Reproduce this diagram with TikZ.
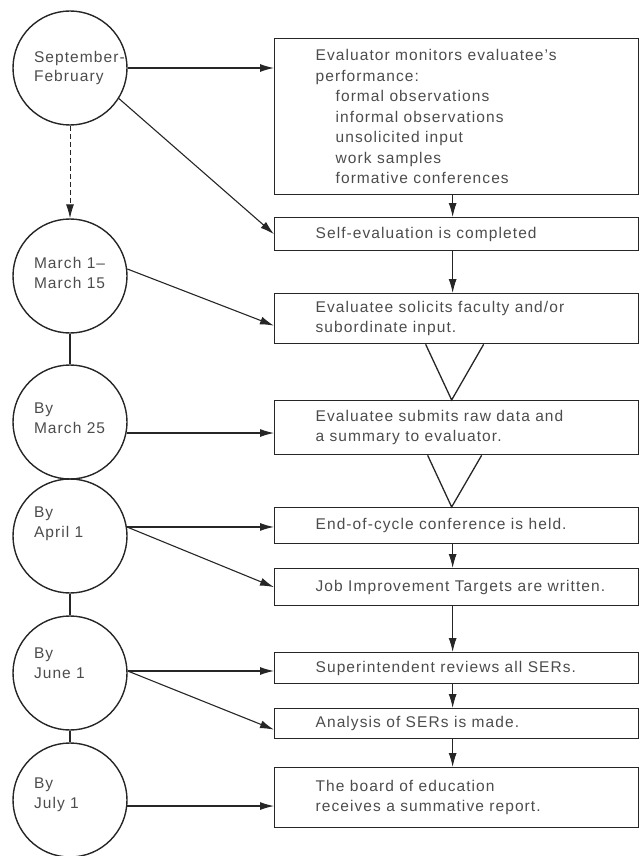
\documentclass[tikz,border=0pt]{standalone}
\usepackage{fontspec}
\setmainfont[LetterSpace=7]{Liberation Sans}
\usetikzlibrary{arrows.meta,calc}
\newcommand{\bxtext}[1]{\hspace*{41pt}\parbox{323pt}{\raggedright #1}}
\newcommand{\cltext}[2]{\parbox{72pt}{\raggedright #2\par\vspace*{#1}}}
\tikzset{
  box/.style={draw=black!85, line width=1.3pt, rectangle, inner xsep=0pt, inner ysep=0pt,
    minimum width=364pt, anchor=north west, text=black!70,
    font=\fontsize{15.5}{20.5}\selectfont},
  circ/.style={draw=black!85, line width=1.4pt, circle, minimum size=114pt, inner sep=0pt,
    text=black!70, font=\fontsize{15.5}{19.5}\selectfont},
  arr/.style={draw=black!85, line width=1.1pt, -{Latex[length=14pt,width=8pt]}},
  plain/.style={draw=black!85, line width=1.3pt}
}
\begin{document}
\begin{tikzpicture}[x=1pt,y=-1pt]
\useasboundingbox (0,0) rectangle (640,856);
% circles
\node[circ] (c1) at (70,68)  {\cltext{0pt}{\mbox{September-}\\\mbox{February}}};
\node[circ] (c2) at (70,276) {\cltext{6pt}{\mbox{March 1--}\\\mbox{March 15}}};
\node[circ] (c3) at (70,422) {\cltext{8pt}{\mbox{By}\\\mbox{March 25}}};
\node[circ] (c4) at (70,536) {\cltext{24pt}{\mbox{By}\\\mbox{April 1}}};
\node[circ] (c5) at (70,673) {\cltext{20pt}{\mbox{By}\\\mbox{June 1}}};
\node[circ] (c6) at (70,800) {\cltext{10pt}{\mbox{By}\\\mbox{July 1}}};
% boxes
\node[box, minimum height=156pt] (b1) at (274,38) {\bxtext{Evaluator monitors evaluatee's\\
performance:\\
\hspace*{20pt}formal observations\\
\hspace*{20pt}informal observations\\
\hspace*{20pt}unsolicited input\\
\hspace*{20pt}work samples\\
\hspace*{20pt}formative conferences}};
\node[box, minimum height=33pt] (b2) at (274,217) {\bxtext{Self-evaluation is completed}};
\node[box, minimum height=50pt] (b3) at (274,293) {\bxtext{Evaluatee solicits faculty and/or\\subordinate input.}};
\node[box, minimum height=54pt] (b4) at (274,400) {\bxtext{Evaluatee submits raw data and\\a summary to evaluator.}};
\node[box, minimum height=36pt] (b5) at (274,507) {\bxtext{End-of-cycle conference is held.}};
\node[box, minimum height=37pt] (b6) at (274,568) {\bxtext{Job Improvement Targets are written.}};
\node[box, minimum height=31pt] (b7) at (274,652) {\bxtext{Superintendent reviews all SERs.}};
\node[box, minimum height=30pt] (b8) at (274,708) {\bxtext{Analysis of SERs is made.}};
\node[box, minimum height=60pt] (b9) at (274,767) {\bxtext{The board of education\\receives a summative report.}};
% circle connections
\draw[arr, line width=0.9pt, dash pattern=on 5pt off 3pt] (c1.south) -- (c2.north);
\draw[plain] (c2.south) -- (c3.north);
\draw[plain] (c4.south) -- (c5.north);
\draw[plain] (c5.south) -- (c6.north);
% circle to box arrows
\draw[arr] (c1.east) -- (c1.east -| b1.west);
\draw[arr] (c1.-32) -- (b2.west);
\draw[arr] (c2.7) -- ([yshift=-7pt]b3.west);
\draw[arr] (c3.-11) -- (c3.-11 -| b4.west);
\draw[arr] (c4.9) -- (c4.9 -| b5.west);
\draw[arr] (c4.9) -- (b6.west);
\draw[arr] (c5.2) -- (c5.2 -| b7.west);
\draw[arr] (c5.2) -- ([yshift=-6pt]b8.west);
\draw[arr] (c6.-6) -- (c6.-6 -| b9.west);
% box to box arrows
\draw[arr] ([xshift=-4pt]b1.south) -- ([xshift=-4pt]b2.north);
\draw[arr] ([xshift=-4pt]b2.south) -- ([xshift=-4pt]b3.north);
\draw[arr] ([xshift=-4pt]b5.south) -- ([xshift=-4pt]b6.north);
\draw[arr] ([xshift=-4pt]b6.south) -- ([xshift=-4pt]b7.north);
\draw[arr] ([xshift=-4pt]b7.south) -- ([xshift=-4pt]b8.north);
\draw[arr] ([xshift=-4pt]b8.south) -- ([xshift=-4pt]b9.north);
% V shapes
\draw[plain] ([xshift=-31pt]b3.south) -- ([xshift=-5pt]b4.north) -- ([xshift=27pt]b3.south);
\draw[plain] ([xshift=-29pt]b4.south) -- ([xshift=-5pt]b5.north) -- ([xshift=25pt]b4.south);
\end{tikzpicture}
\end{document}
